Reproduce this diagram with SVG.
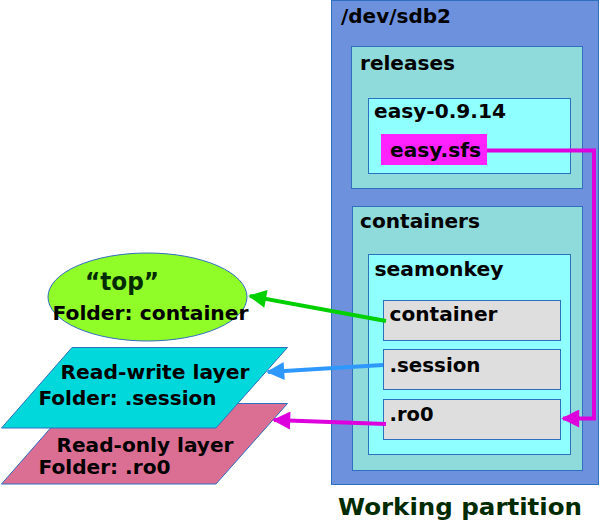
<svg xmlns="http://www.w3.org/2000/svg" width="600" height="526" viewBox="0 0 600 526">
<defs>
<style>
text{font-family:"DejaVu Sans",sans-serif;font-weight:bold;fill:#000}
.box{stroke:#2f6fc0;stroke-width:1}
.lbl{font-size:19px}
.big{font-size:23px;fill:#002a00}
.conn{fill:none;stroke-width:4}
</style>
<marker id="ag" viewBox="0 0 10 10" refX="9" refY="5" markerWidth="6" markerHeight="4.5" orient="auto" markerUnits="strokeWidth"><path d="M0,0L10,5L0,10z" fill="#00d000"/></marker>
<marker id="ab" viewBox="0 0 10 10" refX="9" refY="5" markerWidth="6" markerHeight="4.5" orient="auto" markerUnits="strokeWidth"><path d="M0,0L10,5L0,10z" fill="#2f98ff"/></marker>
<marker id="am" viewBox="0 0 10 10" refX="9" refY="5" markerWidth="6" markerHeight="4.5" orient="auto" markerUnits="strokeWidth"><path d="M0,0L10,5L0,10z" fill="#dd00dd"/></marker>
</defs>
<g id="sdb2"><rect class="box" x="331.5" y="0.5" width="267" height="484" fill="#6d91dc"/><text class="lbl" x="341" y="22.5" textLength="110" lengthAdjust="spacingAndGlyphs">/dev/sdb2</text></g>
<g id="releases"><rect class="box" x="351.5" y="46.5" width="231" height="142" fill="#8fdada"/><text class="lbl" x="360" y="69.5" textLength="95" lengthAdjust="spacingAndGlyphs">releases</text></g>
<g id="easy"><rect class="box" x="368.5" y="98.5" width="202" height="75" fill="#8fffff"/><text class="lbl" x="374" y="118" textLength="132" lengthAdjust="spacingAndGlyphs">easy-0.9.14</text></g>
<g id="easysfs"><rect x="381" y="134" width="106" height="31" fill="#ff22ff"/><text class="lbl" x="390" y="157" textLength="91" lengthAdjust="spacingAndGlyphs">easy.sfs</text></g>
<g id="containers"><rect class="box" x="352.5" y="206.5" width="230" height="264" fill="#8fdada"/><text class="lbl" x="360" y="228" textLength="120" lengthAdjust="spacingAndGlyphs">containers</text></g>
<g id="seamonkey"><rect class="box" x="368.5" y="254.5" width="202" height="200" fill="#8fffff"/><text class="lbl" x="374.5" y="276" textLength="129" lengthAdjust="spacingAndGlyphs">seamonkey</text></g>
<g id="container"><rect class="box" x="383.5" y="300.5" width="177" height="40" fill="#dedede"/><text class="lbl" x="389.5" y="321" textLength="108" lengthAdjust="spacingAndGlyphs">container</text></g>
<g id="session"><rect class="box" x="383.5" y="349.5" width="177" height="40" fill="#dedede"/><text class="lbl" x="389.5" y="371.5" textLength="91" lengthAdjust="spacingAndGlyphs">.session</text></g>
<g id="ro0"><rect class="box" x="383.5" y="399.5" width="177" height="40" fill="#dedede"/><text class="lbl" x="389.5" y="420.5" textLength="44" lengthAdjust="spacingAndGlyphs">.ro0</text></g>
<g id="top"><ellipse cx="147.5" cy="297" rx="99.5" ry="44" fill="#90fc28" stroke="#2f6fc0"/><text x="85" y="289.5" font-size="24" textLength="74" lengthAdjust="spacingAndGlyphs" style="fill:#002a00">“top”</text><text class="lbl" x="52.5" y="320" textLength="196" lengthAdjust="spacingAndGlyphs">Folder: container</text></g>
<g id="rolayer"><path d="M72,403.5H287.5L216,484H1.5z" fill="#db6e93" stroke="#2f6fc0"/><text class="lbl" x="56.5" y="451.5" textLength="177" lengthAdjust="spacingAndGlyphs">Read-only layer</text><text class="lbl" x="38.5" y="474" textLength="132" lengthAdjust="spacingAndGlyphs">Folder: .ro0</text></g>
<g id="rwlayer"><path d="M72,347.5H287.5L216,428H1.5z" fill="#00d8dc" stroke="#2f6fc0"/><text class="lbl" x="60.5" y="379" textLength="189" lengthAdjust="spacingAndGlyphs">Read-write layer</text><text class="lbl" x="38.5" y="404.5" textLength="178" lengthAdjust="spacingAndGlyphs">Folder: .session</text></g>
<g id="connectors">
<path class="conn" d="M386,321L250,296" stroke="#00d000" marker-end="url(#ag)"/>
<path class="conn" d="M383,365L268,372" stroke="#2f98ff" marker-end="url(#ab)"/>
<path class="conn" d="M386,424L274,420" stroke="#dd00dd" marker-end="url(#am)"/>
<path class="conn" d="M487,150.5H594V418.5H563" stroke="#dd00dd" marker-end="url(#am)"/>
</g>
<text class="big" x="338" y="515" textLength="244" lengthAdjust="spacingAndGlyphs">Working partition</text>
</svg>
